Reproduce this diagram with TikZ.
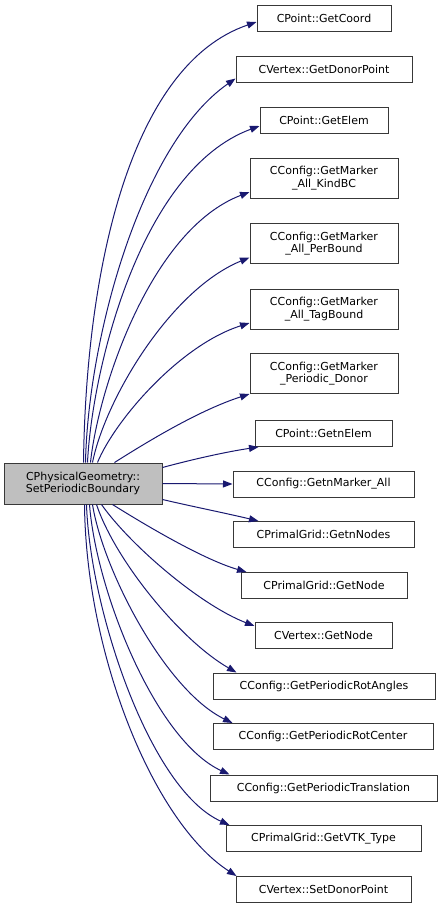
\documentclass[tikz,border=0pt]{standalone}
\usepackage{fontspec}
\setmainfont{DejaVu Sans}
\usetikzlibrary{arrows.meta}
\definecolor{edgeblue}{HTML}{191970}
\definecolor{boxline}{HTML}{383838}
\definecolor{mainfill}{HTML}{BFBFBF}
\begin{document}
\begin{tikzpicture}[x=1pt,y=-1pt,
  box/.style={draw=boxline, line width=1pt, fill=white, inner sep=0pt,
    font=\fontsize{11}{12.5}\selectfont, align=center, minimum height=26pt},
  box2/.style={box, minimum height=40pt},
  edge/.style={draw=edgeblue, line width=1pt, -{Triangle[length=9.5pt,width=7pt]}}]
\useasboundingbox (0,0) rectangle (443,908);
\node[box2, fill=mainfill, minimum width=158pt, minimum height=41pt] (main) at (83,483.5) {CPhysicalGeometry::\\SetPeriodicBoundary};
\node[box, minimum width=134pt] (t1) at (324,18) {CPoint::GetCoord};
\node[box, minimum width=176pt] (t2) at (324,69.5) {CVertex::GetDonorPoint};
\node[box, minimum width=128pt] (t3) at (324,120) {CPoint::GetElem};
\node[box2, minimum width=148pt] (t4) at (324,178) {CConfig::GetMarker\\\_All\_KindBC};
\node[box2, minimum width=148pt] (t5) at (324,243.5) {CConfig::GetMarker\\\_All\_PerBound};
\node[box2, minimum width=148pt] (t6) at (324,309) {CConfig::GetMarker\\\_All\_TagBound};
\node[box2, minimum width=148pt] (t7) at (324,373.5) {CConfig::GetMarker\\\_Periodic\_Donor};
\node[box, minimum width=137pt] (t8) at (323.5,433.5) {CPoint::GetnElem};
\node[box, minimum width=181pt] (t9) at (323.5,484) {CConfig::GetnMarker\_All};
\node[box, minimum width=181pt] (t10) at (323.5,534.5) {CPrimalGrid::GetnNodes};
\node[box, minimum width=166pt] (t11) at (324,585.5) {CPrimalGrid::GetNode};
\node[box, minimum width=137pt] (t12) at (323.5,635.5) {CVertex::GetNode};
\node[box, minimum width=222pt] (t13) at (324,686) {CConfig::GetPeriodicRotAngles};
\node[box, minimum width=220pt] (t14) at (323,736.5) {CConfig::GetPeriodicRotCenter};
\node[box, minimum width=227pt] (t15) at (323.5,788) {CConfig::GetPeriodicTranslation};
\node[box, minimum width=195pt] (t16) at (323.5,838.5) {CPrimalGrid::GetVTK\_Type};
\node[box, minimum width=175pt] (t17) at (323.5,889.5) {CVertex::SetDonorPoint};
% upper edges
\draw[edge] ([xshift=80pt]main.north west) .. controls (86,270) and (130,65) .. ([yshift=-4pt]t1.west);
\draw[edge] ([xshift=82pt]main.north west) .. controls (88,340) and (140,145) .. ([yshift=-9pt]t2.west);
\draw[edge] ([xshift=84pt]main.north west) .. controls (92,370) and (140,170) .. ([yshift=-6pt]t3.west);
\draw[edge] ([xshift=87pt]main.north west) .. controls (98,390) and (150,230) .. ([yshift=-14pt]t4.west);
\draw[edge] ([xshift=89pt]main.north west) .. controls (105,400) and (170,290) .. ([yshift=-14pt]t5.west);
\draw[edge] ([xshift=94pt]main.north west) .. controls (115,420) and (180,345) .. ([yshift=-14pt]t6.west);
\draw[edge] ([xshift=111pt]main.north west) .. controls (150,440) and (200,410) .. (t7.south west);
% middle edges
\draw[edge] ([yshift=16pt]main.east) .. controls (190,460) and (225,452) .. ([xshift=4pt]t8.south west);
\draw[edge] (main.east) -- (t9.west);
\draw[edge] ([yshift=-16pt]main.east) .. controls (190,506) and (225,513) .. ([xshift=26pt]t10.north west);
% lower edges
\draw[edge] ([xshift=109pt]main.south west) .. controls (150,528) and (205,560) .. ([xshift=6pt]t11.north west);
\draw[edge] ([xshift=98pt]main.south west) .. controls (130,545) and (200,605) .. ([yshift=-4pt]t12.north west);
\draw[edge] ([xshift=93pt]main.south west) .. controls (115,560) and (180,640) .. ([xshift=24pt]t13.north west);
\draw[edge] ([xshift=89pt]main.south west) .. controls (103,570) and (165,690) .. ([xshift=20pt]t14.north west);
\draw[edge] ([xshift=86pt]main.south west) .. controls (96,590) and (155,740) .. ([xshift=20pt]t15.north west);
\draw[edge] ([xshift=83pt]main.south west) .. controls (90,610) and (150,790) .. ([xshift=4pt]t16.north west);
\draw[edge] ([xshift=81pt]main.south west) .. controls (86,654) and (153,822) .. ([xshift=1pt]t17.north west);
\end{tikzpicture}
\end{document}
